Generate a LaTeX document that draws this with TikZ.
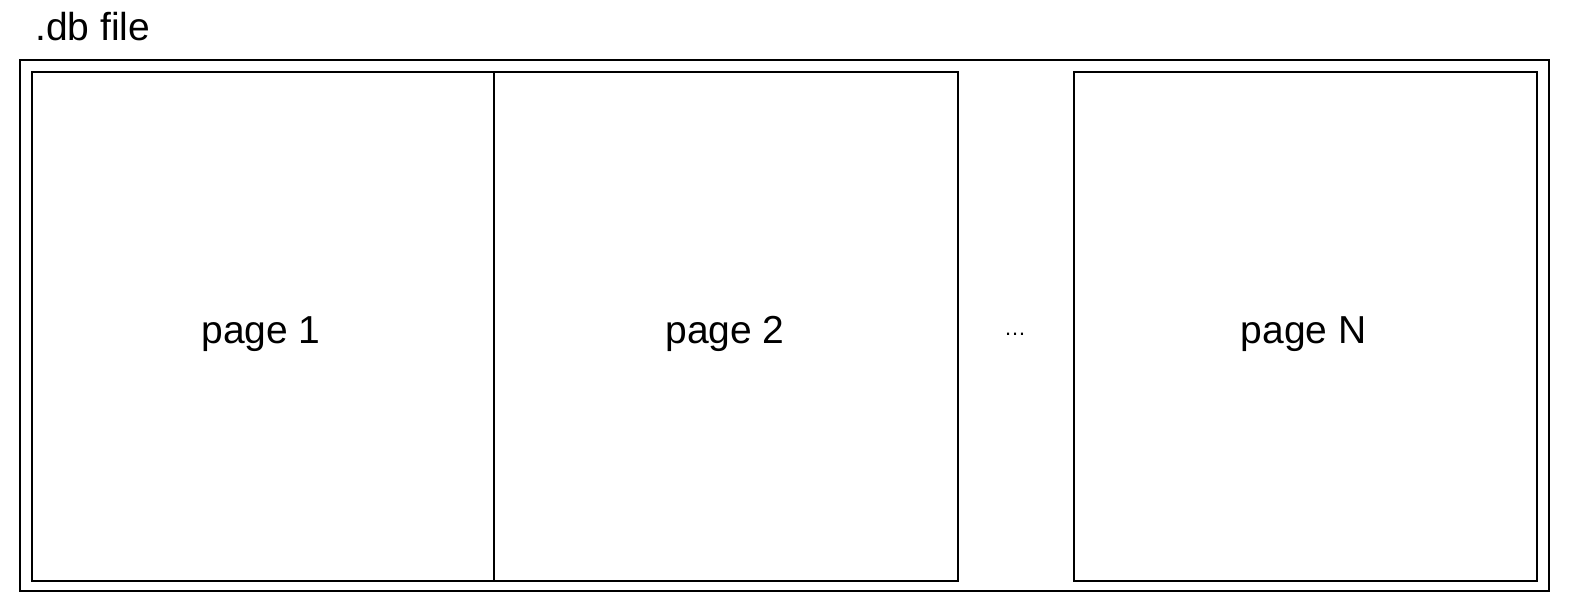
\documentclass[tikz,border=0pt]{standalone}
\usepackage{fontspec}
\setmainfont{Liberation Sans}
\begin{document}
\begin{tikzpicture}[x=1pt,y=1pt,
  box/.style={draw=black,line width=2pt,fill=none},
  lbl/.style={font=\fontsize{39}{41}\selectfont,inner sep=0pt,anchor=base}]
\useasboundingbox (0,0) rectangle (1570,-606);
\fill[white] (0,0) rectangle (1570,-606);
\coordinate (o1) at (20,-59.5);
\coordinate (o2) at (1549,-591);
\draw[box] (o1) rectangle (o2);
\node[box,inner sep=0pt,anchor=north west,minimum width=462pt,minimum height=509pt] (p1) at (31,-71) {};
\node[box,inner sep=0pt,anchor=north west,minimum width=464pt,minimum height=509pt] (p2) at (493,-71) {};
\node[box,inner sep=0pt,anchor=north west,minimum width=463pt,minimum height=509pt] (pN) at (1073,-71) {};
\node[lbl] (t1) at ([xshift=-2pt,yshift=-17pt]p1.center) {page 1};
\node[lbl] (t2) at ([xshift=-1pt,yshift=-17pt]p2.center) {page 2};
\node[lbl] (tN) at ([xshift=-2pt,yshift=-17pt]pN.center) {page N};
\node[font=\fontsize{22}{24}\selectfont,inner sep=0pt,anchor=base] (dots) at (1015,-335) {…};
\node[lbl,anchor=base west] (title) at (35,-40) {.db file};
\end{tikzpicture}
\end{document}
